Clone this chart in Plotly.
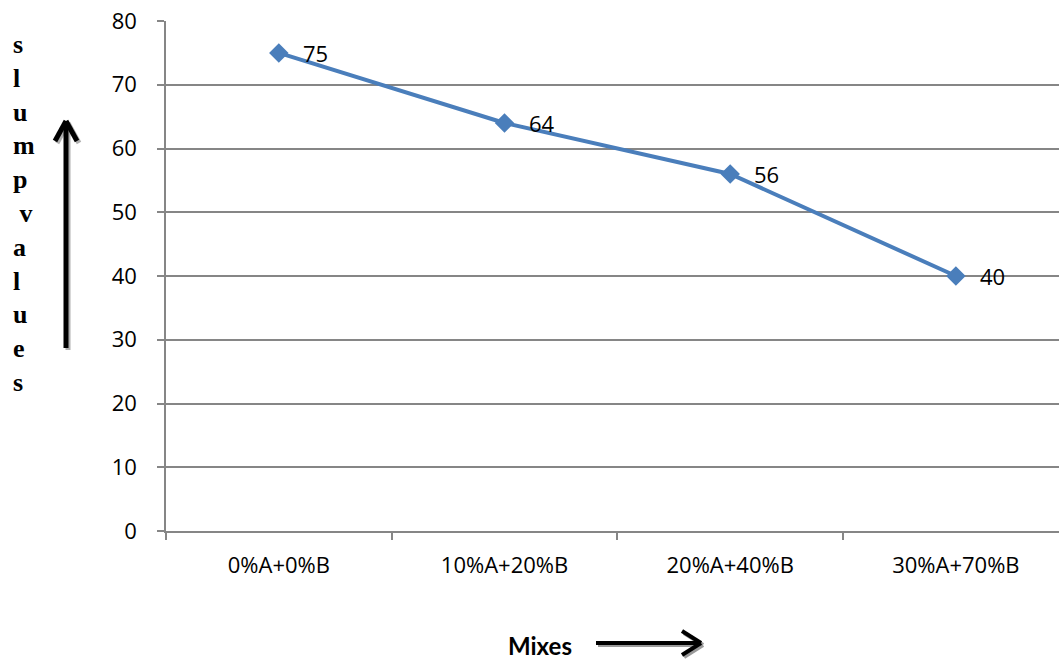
import plotly.graph_objects as go

categories = ["0%A+0%B", "10%A+20%B", "20%A+40%B", "30%A+70%B"]
slump_values = [75, 64, 56, 40]
y_ticks = [0, 10, 20, 30, 40, 50, 60, 70, 80]

W, H = 1059, 659
L, R, T, B = 166, 1059, 21, 531
FONT = "Open Sans, Liberation Sans, Arial"

def px(x):
    return (x - L) / (R - L)

def py(y):
    return (B - y) / (B - T)

fig = go.Figure()
fig.add_trace(go.Scatter(
    x=categories, y=slump_values, mode="lines+markers",
    line=dict(color="#4A7EBB", width=4),
    marker=dict(symbol="diamond", size=15, color="#4A7EBB"),
    cliponaxis=False, showlegend=False,
))

shapes = []
# vertical up arrow (with faint shadow)
for off, col, wdt in [(2, "#b0b0b0", 5), (0, "#000000", 5)]:
    ax_x = 66 + off
    shapes.append(dict(type="line", xref="paper", yref="paper", x0=px(ax_x), x1=px(ax_x), y0=py(348 + off), y1=py(121 + off),
                       line=dict(color=col, width=wdt)))
    shapes.append(dict(type="line", xref="paper", yref="paper", x0=px(ax_x - 11), x1=px(ax_x), y0=py(141 + off), y1=py(121 + off),
                       line=dict(color=col, width=wdt)))
    shapes.append(dict(type="line", xref="paper", yref="paper", x0=px(ax_x + 11), x1=px(ax_x), y0=py(141 + off), y1=py(121 + off),
                       line=dict(color=col, width=wdt)))
# horizontal right arrow with shadow
for off, col in [(2, "#9a9a9a"), (0, "#000000")]:
    shapes.append(dict(type="line", xref="paper", yref="paper", x0=px(596 + off), x1=px(701 + off), y0=py(643 + off), y1=py(643 + off),
                       line=dict(color=col, width=4)))
    shapes.append(dict(type="line", xref="paper", yref="paper", x0=px(682 + off), x1=px(701 + off), y0=py(631 + off), y1=py(643 + off),
                       line=dict(color=col, width=4)))
    shapes.append(dict(type="line", xref="paper", yref="paper", x0=px(682 + off), x1=px(701 + off), y0=py(655 + off), y1=py(643 + off),
                       line=dict(color=col, width=4)))

letters = ["s", "l", "u", "m", "p", "&nbsp;v", "a", "l", "u", "e", "s"]
annotations = [
    dict(text="<b>" + "<br>".join(letters) + "</b>", xref="paper", yref="paper", x=px(11), y=py(28),
         xanchor="left", yanchor="top", showarrow=False, align="left",
         font=dict(family="Liberation Serif, Times New Roman", size=26, color="#000000")),
    dict(text="Mixes", xref="paper", yref="paper", x=px(540), y=py(645), xanchor="center", yanchor="middle",
         height=28, borderpad=0,
         showarrow=False, font=dict(family="Lato, Open Sans, sans-serif", size=24, color="#000000", weight="bold")),
]
for cat, val in zip(categories, slump_values):
    annotations.append(dict(text=str(val), x=cat, y=val, xref="x", yref="y", xanchor="left", yanchor="middle",
                            xshift=22, showarrow=False, font=dict(family=FONT, size=22, color="#000000")))

fig.update_layout(
    width=W, height=H,
    margin=dict(l=L, r=W - R, t=T, b=H - B, autoexpand=False),
    paper_bgcolor="#ffffff", plot_bgcolor="#ffffff",
    shapes=shapes, annotations=annotations,
    xaxis=dict(range=[-0.5, 3.457], showgrid=False, showline=True, linecolor="#868686", linewidth=1.5,
               ticks="outside", tickson="boundaries", ticklen=7, tickcolor="#868686", tickwidth=1.5,
               tickfont=dict(family=FONT, size=22, color="#000000"), ticklabelstandoff=14,
               fixedrange=True),
    yaxis=dict(range=[0, 80], tickvals=y_ticks, showgrid=True, gridcolor="#868686", gridwidth=1.5,
               showline=True, linecolor="#868686", linewidth=1.5, ticks="outside", ticklen=7, tickcolor="#868686",
               tickwidth=1.5, ticklabelstandoff=16,
               tickfont=dict(family=FONT, size=22, color="#000000"), zeroline=False),
)

fig.write_html("out.html", config={"displayModeBar": False},
               post_script="document.body.style.margin='0';document.body.style.overflow='hidden';")
